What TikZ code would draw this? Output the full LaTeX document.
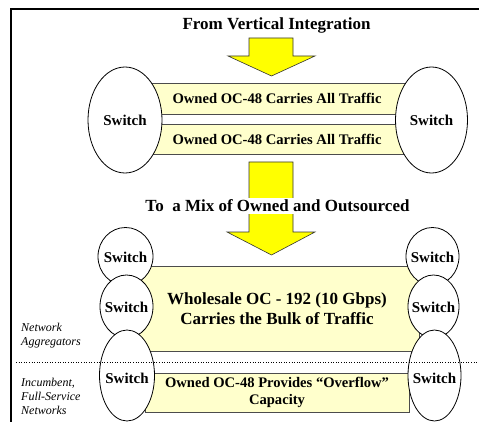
\documentclass[tikz,border=0pt]{standalone}
\usepackage{fontspec}
\setmainfont{Liberation Serif}
\usetikzlibrary{shapes.geometric}
\definecolor{barfill}{HTML}{FFFFCC}
\definecolor{arrowfill}{HTML}{FFFF00}
\begin{document}
\begin{tikzpicture}[x=1pt, y=-1pt,
  sw/.style={ellipse, draw=black, fill=white, line width=0.8pt, inner sep=0pt},
  swtext/.style={font=\fontsize{15}{15}\selectfont\bfseries, inner sep=0pt},
  bar/.style={rectangle, draw=black!70, fill=barfill, line width=0.8pt, inner sep=0pt, align=center},
  bigarrow/.style={fill=arrowfill, draw=black!80, line width=0.6pt, line join=miter},
  heading/.style={font=\fontsize{17}{17}\selectfont\bfseries},
  side/.style={font=\fontsize{12}{14}\selectfont\itshape, align=left, anchor=west, inner sep=0pt}
]
\useasboundingbox (0,0) rectangle (479,422);

% frame
\draw[line width=2pt, line join=miter] (11,422) -- (11,9) -- (479,9);

% upper panel
\node[heading] (from) at (276.5,25) {From Vertical Integration};
\draw[bigarrow] (249,38) -- (293,38) -- (293,56) -- (315,56) -- (271.5,76)
  -- (228,56) -- (249,56) -- cycle;

\node[bar, minimum width=274pt, minimum height=31pt, font=\fontsize{14.6}{14.6}\selectfont\bfseries]
  (bar1) at (277,98.5) {Owned OC-48 Carries All Traffic};
\node[bar, minimum width=274pt, minimum height=30pt, font=\fontsize{14.6}{14.6}\selectfont\bfseries]
  (bar2) at (277,139) {Owned OC-48 Carries All Traffic};

\node[sw, minimum width=74pt, minimum height=106pt] (tl) at (125,120) {};
\node[swtext] (tlt) at (tl.center) {Switch};
\node[sw, minimum width=72pt, minimum height=106pt] (tr) at (431.5,120) {};
\node[swtext] (trt) at (tr.center) {Switch};

% transition arrow
\draw[bigarrow] (249,162) -- (293,162) -- (293,232) -- (315,232) -- (271.5,255)
  -- (227,232) -- (249,232) -- cycle;
\node[heading, fill=white, inner sep=1.5pt] (to) at (277.5,206) {To\ \ a Mix of Owned and Outsourced};

% lower panel
\node[bar, minimum width=284pt, minimum height=85pt, font=\fontsize{17}{20}\selectfont\bfseries]
  (big) at (277,308.5) {Wholesale OC - 192 (10 Gbps)\\Carries the Bulk of Traffic};
\node[bar, minimum width=264pt, minimum height=39pt, font=\fontsize{14.6}{17}\selectfont\bfseries]
  (small) at (277,392.5) {Owned OC-48 Provides ``Overflow''\\Capacity};

\node[sw, minimum width=55pt, minimum height=58pt] (l1) at (125.5,256.5) {};
\node[swtext] (l1t) at (125.5,257) {Switch};
\node[sw, minimum width=53pt, minimum height=63pt] (l2) at (126.5,306.5) {};
\node[swtext] (l2t) at (126.5,307.5) {Switch};
\node[sw, minimum width=55pt, minimum height=91pt] (l3) at (127,375.5) {};
\node[swtext] (l3t) at (127,378) {Switch};

\node[sw, minimum width=53pt, minimum height=58pt] (r1) at (432.5,256.5) {};
\node[swtext] (r1t) at (432.5,257) {Switch};
\node[sw, minimum width=51pt, minimum height=63pt] (r2) at (433.5,306.5) {};
\node[swtext] (r2t) at (433.5,307.5) {Switch};
\node[sw, minimum width=53pt, minimum height=91pt] (r3) at (434.5,375.5) {};
\node[swtext] (r3t) at (434.5,378) {Switch};

% tier separator
\draw[dotted, line width=0.6pt] (16,362) -- (479,362);

\node[side, text depth=0pt] (agg) at (21,334) {Network\\Aggregators};
\node[side] (inc) at (21,396) {Incumbent,\\Full-Service\\Networks};
\end{tikzpicture}
\end{document}
